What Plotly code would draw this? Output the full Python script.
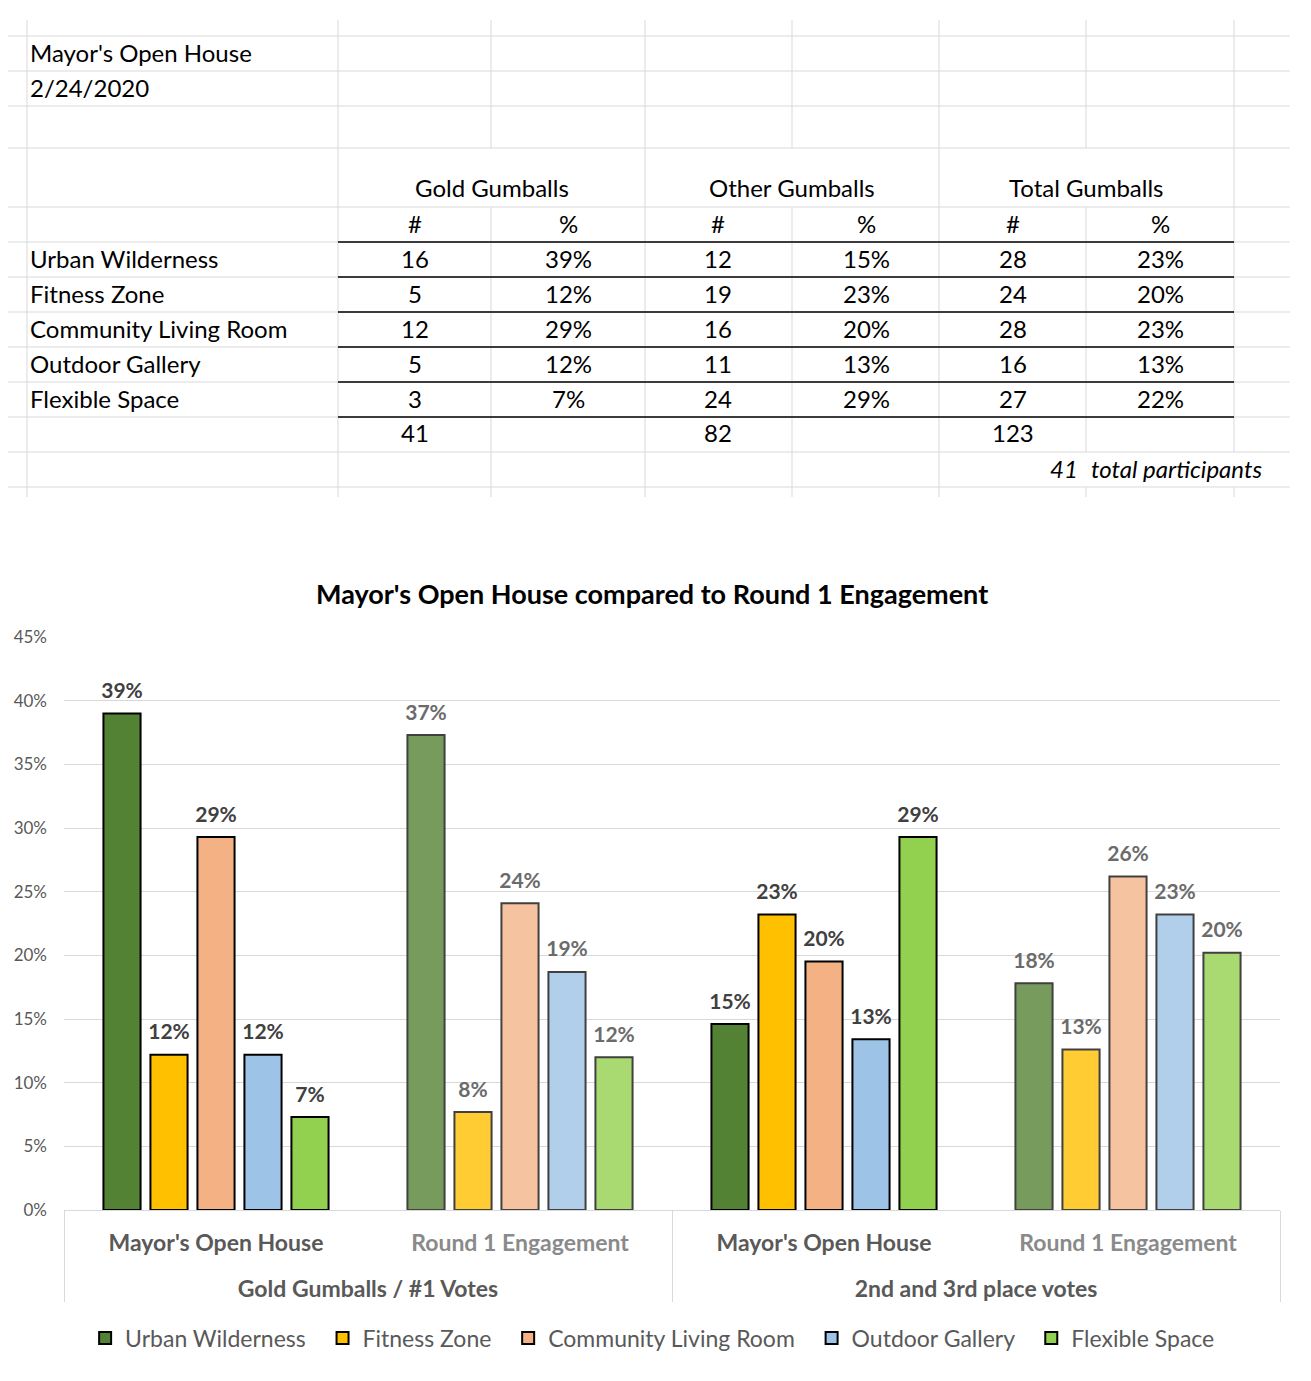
import plotly.graph_objects as go

# ---------------- data ----------------
table_title = "Mayor's Open House"
table_date = "2/24/2020"
row_labels = ["Urban Wilderness", "Fitness Zone", "Community Living Room", "Outdoor Gallery", "Flexible Space"]
group_headers = ["Gold Gumballs", "Other Gumballs", "Total Gumballs"]
gold_n = [16, 5, 12, 5, 3]
gold_pct = ["39%", "12%", "29%", "12%", "7%"]
other_n = [12, 19, 16, 11, 24]
other_pct = ["15%", "23%", "20%", "13%", "29%"]
total_n = [28, 24, 28, 16, 27]
total_pct = ["23%", "20%", "23%", "13%", "22%"]
col_totals = [41, 82, 123]
participants = 41

chart_title = "Mayor's Open House compared to Round 1 Engagement"
series = ["Urban Wilderness", "Fitness Zone", "Community Living Room", "Outdoor Gallery", "Flexible Space"]
groups = ["Gold Gumballs / #1 Votes", "Gold Gumballs / #1 Votes", "2nd and 3rd place votes", "2nd and 3rd place votes"]
subcats = ["Mayor's Open House", "Round 1 Engagement", "Mayor's Open House", "Round 1 Engagement"]
mayor_gold = [0.390, 0.122, 0.293, 0.122, 0.073]
round1_gold = [0.373, 0.077, 0.241, 0.187, 0.120]
mayor_other = [0.146, 0.232, 0.1951, 0.134, 0.293]
round1_other = [0.178, 0.126, 0.262, 0.232, 0.202]

dark_colors = ["#548235", "#FFC000", "#F4B183", "#9DC3E6", "#92D050"]
light_colors = ["#769B5C", "#FFCC33", "#F6C3A0", "#B1CFEA", "#A9DA72"]

# ---------------- helpers ----------------
W, H = 1311, 1381
FONT = "Lato"


def px(x):
    return x / W


def py(y):
    return 1 - y / H


SPACER = "<br><span style='font-size:12px'>&nbsp;</span>"


def fmt_sub(s):
    if s.startswith("Round"):
        return "<b><span style='color:#8a8a8a'>" + s + "</span></b>" + SPACER
    return "<b>" + s + "</b>" + SPACER


fig = go.Figure()

xcats = [[("<b>" + g + "</b>") for g in groups], [fmt_sub(s) for s in subcats]]
for i, name in enumerate(series):
    vals = [mayor_gold[i], round1_gold[i], mayor_other[i], round1_other[i]]
    fig.add_trace(go.Bar(
        x=xcats, y=vals, name=name + "&nbsp;&nbsp;",
        marker=dict(color=[dark_colors[i], light_colors[i], dark_colors[i], light_colors[i]],
                    line=dict(color=["#000000", "#404040", "#000000", "#404040"], width=2)),
        texttemplate="<span style='font-size:21px'><b>%{y:.0%}</b></span><br>&nbsp;",
        textposition="outside", constraintext="none",
        textfont=dict(family=FONT, size=8, color=["#404040", "#6b6b6b", "#404040", "#6b6b6b"]),
        cliponaxis=False, hoverinfo="skip",
    ))

# ---------------- table ----------------
shapes = []
grid = "#d9d9d9"
hlines = [36, 71, 106, 148, 207, 242, 277, 312, 347, 382, 417, 452, 487]
for y in hlines:
    shapes.append(dict(type="line", xref="paper", yref="paper", x0=px(8), x1=px(1290), y0=py(y), y1=py(y),
                       line=dict(color=grid, width=1)))
vsegs = {
    27: [(20, 497)],
    338: [(20, 497)],
    491: [(20, 148), (207, 497)],
    645: [(20, 497)],
    792: [(20, 148), (207, 497)],
    939: [(20, 497)],
    1086: [(20, 148), (207, 452), (487, 497)],
    1234: [(20, 452), (487, 497)],
}
for x, segs in vsegs.items():
    for a, b in segs:
        shapes.append(dict(type="line", xref="paper", yref="paper", x0=px(x), x1=px(x), y0=py(a), y1=py(b),
                           line=dict(color=grid, width=1)))
for y in [242, 277, 312, 347, 382, 417]:
    shapes.append(dict(type="line", xref="paper", yref="paper", x0=px(338), x1=px(1234), y0=py(y), y1=py(y),
                       line=dict(color="#000000", width=1.5)))

ann = []
TF = dict(family=FONT, size=24, color="#000000")


def txt(x, y, s, anchor="center", italic=False):
    t = "<i>" + s + "</i>" if italic else s
    ann.append(dict(x=px(x), y=py(y - 2), xref="paper", yref="paper", text=t, showarrow=False,
                    xanchor=anchor, yanchor="middle", font=TF))


LEFT = 28
txt(LEFT, 54, table_title, "left")
txt(LEFT, 89, table_date, "left")
hdr_centers = [492, 792, 1086]
num_cols = [415, 718, 1013]
pct_cols = [568, 866, 1160]
for j, h in enumerate(group_headers):
    txt(hdr_centers[j], 190, h)
    txt(num_cols[j], 225, "#")
    txt(pct_cols[j], 225, "%")
row_y = [260, 295, 330, 365, 400]
for r, lab in enumerate(row_labels):
    txt(LEFT, row_y[r], lab, "left")
    for j, (nums, pcts) in enumerate([(gold_n, gold_pct), (other_n, other_pct), (total_n, total_pct)]):
        txt(num_cols[j], row_y[r], str(nums[r]))
        txt(pct_cols[j], row_y[r], pcts[r])
for j, t in enumerate(col_totals):
    txt(num_cols[j], 435, str(t))
txt(1080, 470, str(participants), "right", italic=True)
txt(1089, 470, "total participants", "left", italic=True)

# chart title
ann.append(dict(x=px(652), y=py(594), xref="paper", yref="paper", text="<b>" + chart_title + "</b>",
                showarrow=False, xanchor="center", yanchor="middle",
                font=dict(family=FONT, size=27, color="#000000")))

fig.update_layout(
    width=W, height=H,
    margin=dict(l=0, r=0, t=0, b=0, pad=0, autoexpand=False),
    paper_bgcolor="white", plot_bgcolor="white",
    barmode="group", bargap=0.227, bargroupgap=0.21,
    font=dict(family=FONT, color="#595959"),
    shapes=shapes, annotations=ann,
    showlegend=True,
    legend=dict(orientation="h", x=0.502, xanchor="center", y=py(1338), yanchor="middle",
                font=dict(family=FONT, size=23, color="#595959"), traceorder="normal"),
    xaxis=dict(type="multicategory", domain=[px(64), px(1280)], showline=True, linecolor=grid, linewidth=1,
               showdividers=True, dividercolor=grid, dividerwidth=1, ticks="", automargin=False,
               ticklabelstandoff=12,
               tickfont=dict(family=FONT, size=23, color="#595959"), showgrid=False, zeroline=False),
    yaxis=dict(domain=[py(1210), py(637)], range=[0, 0.45], dtick=0.05, tickformat=".0%", automargin=False,
               gridcolor=grid, gridwidth=1, showline=False, zeroline=False, ticks="",
               ticklabelstandoff=16, tickfont=dict(family=FONT, size=17, color="#595959")),
)

fig.write_html("out.html", config={"displayModeBar": False},
               post_script="document.body.style.margin='0';document.body.style.padding='0';")
